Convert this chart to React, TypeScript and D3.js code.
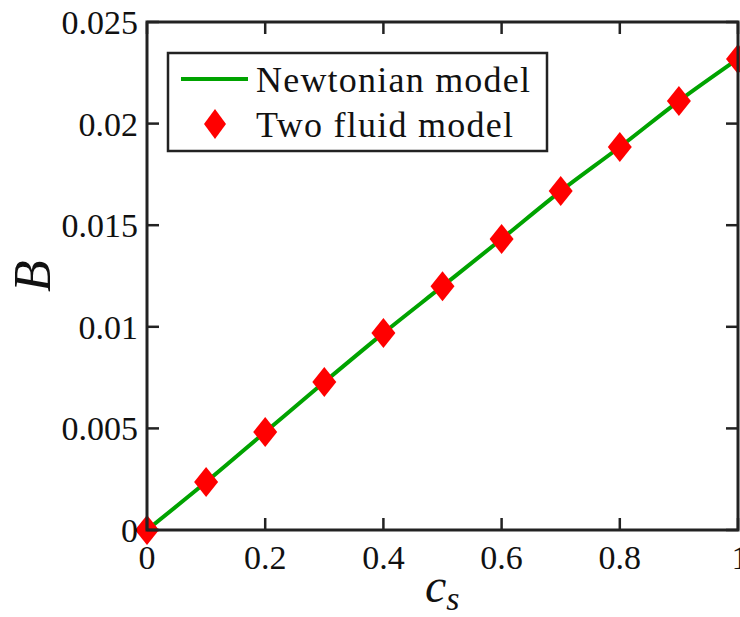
import React from "react";
import * as d3 from "d3";

const cs = [0, 0.1, 0.2, 0.3, 0.4, 0.5, 0.6, 0.7, 0.8, 0.9, 1.0];
const newtonian = [0, 0.00236, 0.00482, 0.00728, 0.00969, 0.0120, 0.01432, 0.01668, 0.01885, 0.02111, 0.02318];
const twoFluid = [0, 0.00236, 0.00482, 0.00728, 0.00969, 0.0120, 0.01432, 0.01668, 0.01885, 0.02111, 0.02318];
const xTicks = [0, 0.2, 0.4, 0.6, 0.8, 1];
const xTickLabels = ["0", "0.2", "0.4", "0.6", "0.8", "1"];
const yTicks = [0, 0.005, 0.01, 0.015, 0.02, 0.025];
const yTickLabels = ["0", "0.005", "0.01", "0.015", "0.02", "0.025"];
const legendLabels = ["Newtonian model", "Two fluid model"];

export default function App() {
  const W = 740, H = 617;
  const left = 147, right = 738, top = 22, bottom = 530;
  const x = d3.scaleLinear().domain([0, 1]).range([left, right]);
  const y = d3.scaleLinear().domain([0, 0.025]).range([bottom, top]);
  const line = d3.line<number>().x((_, i) => x(cs[i])).y((d) => y(d)).curve(d3.curveCatmullRom);
  const font = "Liberation Serif";
  const green = "#00a300";
  const red = "#ff0000";
  const axisColor = "#222";
  const tickLen = 12;
  const diamond = (cx: number, cy: number, w = 12, h = 15) =>
    `M${cx},${cy - h}L${cx + w},${cy}L${cx},${cy + h}L${cx - w},${cy}Z`;

  return (
    <svg width={W} height={H} style={{ position: "absolute", left: 0, top: 0, background: "#fff" }}>
      <rect x={0} y={0} width={W} height={H} fill="#fff" />
      {/* data */}
      <path d={line(newtonian) || ""} fill="none" stroke={green} strokeWidth={4} />
      {twoFluid.map((v, i) => (
        <path key={i} d={diamond(x(cs[i]), y(v))} fill={red} />
      ))}
      {/* axes box */}
      <rect x={left} y={top} width={right - left} height={bottom - top} fill="none" stroke={axisColor} strokeWidth={3} />
      {xTicks.map((t, i) => (
        <g key={"x" + i}>
          <line x1={x(t)} x2={x(t)} y1={bottom} y2={bottom - tickLen} stroke={axisColor} strokeWidth={2.5} />
          <line x1={x(t)} x2={x(t)} y1={top} y2={top + tickLen} stroke={axisColor} strokeWidth={2.5} />
          <text x={i === xTicks.length - 1 ? x(t) + 2 : x(t)} y={569} textAnchor="middle" fontFamily={font} fontSize={34} fill="#111">
            {xTickLabels[i]}
          </text>
        </g>
      ))}
      {yTicks.map((t, i) => (
        <g key={"y" + i}>
          <line x1={left} x2={left + tickLen} y1={y(t)} y2={y(t)} stroke={axisColor} strokeWidth={2.5} />
          <line x1={right} x2={right - tickLen} y1={y(t)} y2={y(t)} stroke={axisColor} strokeWidth={2.5} />
          <text x={138} y={y(t) + 12} textAnchor="end" fontFamily={font} fontSize={34} fill="#111">
            {yTickLabels[i]}
          </text>
        </g>
      ))}
      {/* axis labels */}
      <text transform="translate(50,276) rotate(-90)" textAnchor="middle" fontFamily={font} fontStyle="italic" fontSize={52} fill="#111">B</text>
      <text x={425} y={602} fontFamily={font} fontStyle="italic" fontSize={48} fill="#111">
        c<tspan fontSize={34} dy={8}>s</tspan>
      </text>
      {/* legend */}
      <rect x={168} y={53} width={379} height={98} fill="#fff" stroke={axisColor} strokeWidth={2.5} />
      <line x1={181} x2={248} y1={79} y2={79} stroke={green} strokeWidth={4} />
      <path d={diamond(215, 124, 11, 15)} fill={red} />
      <text x={256} y={92} fontFamily={font} fontSize={36} textLength={274} lengthAdjust="spacing" fill="#111">{legendLabels[0]}</text>
      <text x={256} y={137} fontFamily={font} fontSize={36} textLength={257} lengthAdjust="spacing" fill="#111">{legendLabels[1]}</text>
    </svg>
  );
}
